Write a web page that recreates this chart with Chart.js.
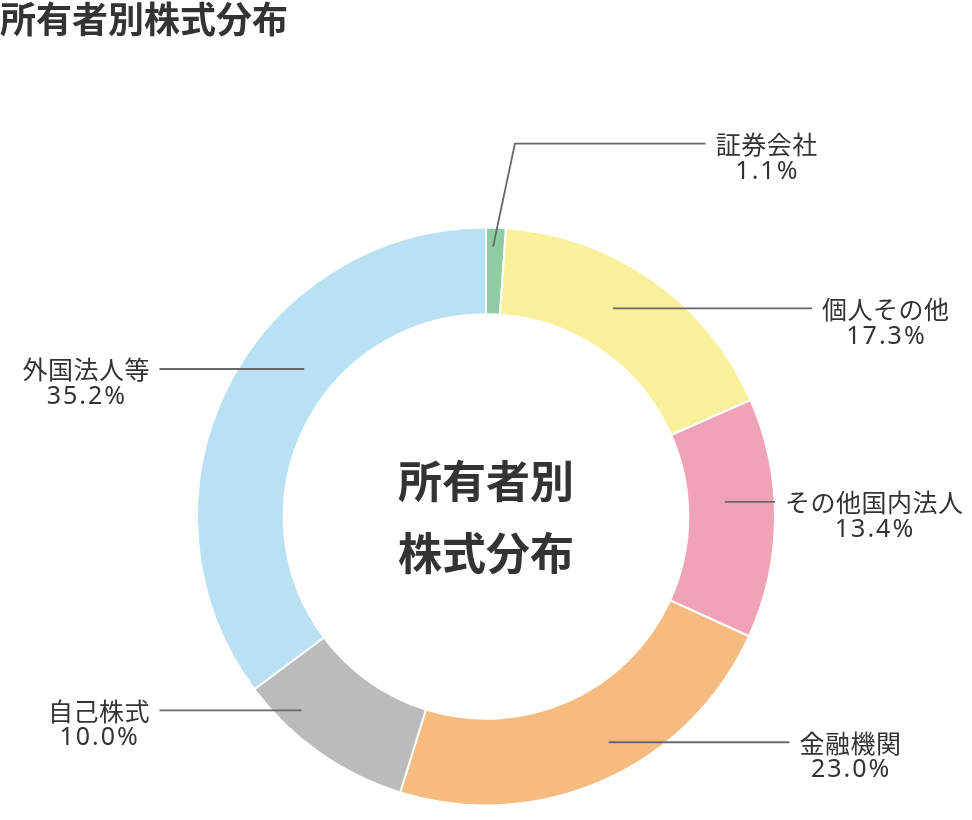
<!DOCTYPE html>
<html lang="ja">
<head>
<meta charset="utf-8">
<title>所有者別株式分布</title>
<script src="https://cdn.jsdelivr.net/npm/chart.js@4.4.1/dist/chart.umd.min.js"></script>
<style>
  html, body { margin: 0; padding: 0; background: #fff; }
  #wrap { width: 972px; height: 820px; position: relative; }
</style>
</head>
<body>
<div id="wrap"><canvas id="ownerChart"></canvas></div>
<script>
const categories = ['証券会社', '個人その他', 'その他国内法人', '金融機関', '自己株式', '外国法人等'];
const shares = [1.1, 17.3, 13.4, 23.0, 10.0, 35.2];
const sliceColors = ['#8fcca1', '#faf09b', '#f0a3b7', '#f6bc7f', '#babbba', '#b9e1f3'];
const centerLines = ['所有者別', '株式分布'];

// leader lines: start inside the slice (t = part of the slice angle, r = part of outer radius),
// end at endX (part of outer radius from the centre). only the thin top slice gets an elbow
const leaders = [
  { t: 0.38, r: 0.934, endX: 0.76, elbow: { x: 0.10, y: -1.29 } },
  { t: 0.44, r: 0.843, endX: 1.128 },
  { t: 0.42, r: 0.828, endX: 1.0 },
  { t: 0.447, r: 0.889, endX: 1.05 },
  { t: 0.731, r: 0.926, endX: -1.13 },
  { t: 0.598, r: 0.81, endX: -1.13 }
];

const cjk = '"Noto Sans CJK JP", "Noto Sans", sans-serif';
const TEXT = '#333333';

const labelPlugin = {
  id: 'leaderLabels',
  afterDatasetsDraw(chart) {
    const ctx = chart.ctx;
    const arcs = chart.getDatasetMeta(0).data;
    const cx = arcs[0].x, cy = arcs[0].y, R = arcs[0].outerRadius;

    ctx.save();
    // centre text
    ctx.fillStyle = TEXT;
    ctx.textAlign = 'center';
    ctx.textBaseline = 'middle';
    ctx.font = 'bold 44px ' + cjk;
    ctx.fillText(centerLines[0], cx, cy - 35);
    ctx.fillText(centerLines[1], cx, cy + 37);

    arcs.forEach((arc, i) => {
      const ld = leaders[i];
      const a = arc.startAngle + (arc.endAngle - arc.startAngle) * ld.t;
      const sx = cx + Math.cos(a) * R * ld.r;
      const sy = cy + Math.sin(a) * R * ld.r;
      const ly = ld.elbow ? cy + ld.elbow.y * R : sy;
      const ex = cx + ld.endX * R;

      ctx.strokeStyle = '#686868';
      ctx.lineWidth = 1.8;
      ctx.beginPath();
      ctx.moveTo(sx, sy);
      if (ld.elbow) ctx.lineTo(cx + ld.elbow.x * R, ly);
      ctx.lineTo(ex, ly);
      ctx.stroke();

      const name = categories[i];
      const pct = shares[i].toFixed(1) + '%';
      ctx.font = '25px ' + cjk;
      ctx.letterSpacing = '0.5px';
      const w1 = ctx.measureText(name).width - 0.5;
      ctx.font = '25px "Noto Sans", sans-serif';
      ctx.letterSpacing = '2px';
      const w2 = ctx.measureText(pct).width - 2;
      const w = Math.max(w1, w2);
      const gap = 10;
      const tx = ld.endX > 0 ? ex + gap + w / 2 : ex - gap - w / 2;

      ctx.fillStyle = TEXT;
      ctx.textAlign = 'center';
      ctx.textBaseline = 'middle';
      ctx.font = '25px ' + cjk;
      ctx.letterSpacing = '0.5px';
      ctx.fillText(name, tx + 0.25, ly + 1);
      ctx.font = '25px "Noto Sans", sans-serif';
      ctx.letterSpacing = '2px';
      ctx.fillText(pct, tx + 1, ly + 28);
    });
    ctx.restore();
  }
};

new Chart(document.getElementById('ownerChart'), {
  type: 'doughnut',
  data: {
    labels: categories,
    datasets: [{
      data: shares,
      backgroundColor: sliceColors,
      borderColor: '#ffffff',
      borderWidth: 2,
      hoverOffset: 0
    }]
  },
  options: {
    responsive: true,
    maintainAspectRatio: false,
    animation: false,
    events: [],
    cutout: '70%',
    layout: { padding: { top: 0, bottom: 13.5, left: 0, right: 0 } },
    plugins: {
      legend: { display: false },
      tooltip: { enabled: false },
      title: {
        display: true,
        text: '所有者別株式分布',
        align: 'start',
        color: TEXT,
        font: { family: cjk, size: 36, weight: 'bold', lineHeight: 1.1 },
        padding: { top: 0, bottom: 186.9 }
      }
    }
  },
  plugins: [labelPlugin]
});
</script>
</body>
</html>
